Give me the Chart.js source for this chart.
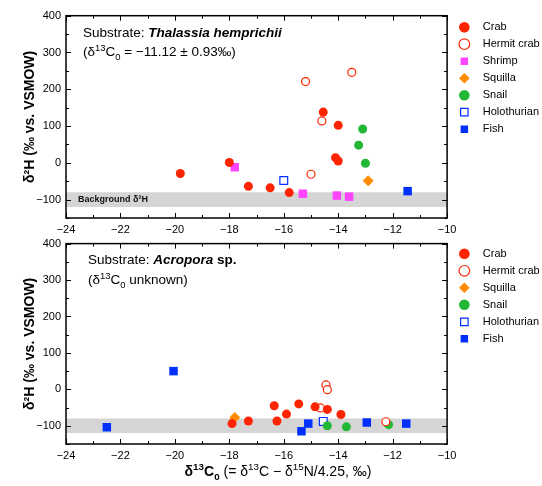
<!DOCTYPE html>
<html>
<head>
<meta charset="utf-8">
<script src="https://cdn.jsdelivr.net/npm/chart.js@4"></script>
<style>
  body { margin: 0; background: #fff; }
  #wrap { position: relative; width: 542px; height: 486px; overflow: hidden; font-family: "Liberation Sans", Arial, sans-serif; color: #000; }
  canvas { position: absolute; left: 0; }
  .note { position: absolute; font-size: 13.5px; line-height: 19px; white-space: nowrap; }
  sup, sub { font-size: 70%; line-height: 0; }
  #xtitle { position: absolute; top: 463px; left: 0; width: 556px; text-align: center; font-size: 14px; white-space: nowrap; }
</style>
</head>
<body>
<div id="wrap">
  <canvas id="top" width="542" height="240" style="top:0"></canvas>
  <canvas id="bottom" width="542" height="254" style="top:232px"></canvas>
  <div class="note" style="left:83px; top:23px">Substrate: <b><i>Thalassia hemprichii</i></b><br>(δ<sup>13</sup>C<sub>0</sub> = −11.12 ± 0.93‰)</div>
  <div class="note" style="left:88px; top:250px; line-height:20px">Substrate: <b><i>Acropora</i> sp.</b><br>(δ<sup>13</sup>C<sub>0</sub> unknown)</div>
  <div id="xtitle"><b>δ<sup>13</sup>C<sub>0</sub></b> (= δ<sup>13</sup>C − δ<sup>15</sup>N/4.25, ‰)</div>
</div>
<script>
// axis limits
const xMin = -24, xMax = -10, xStep = 1;
const yMin = -150, yMax = 400, yStep = 50;
const bgFrom = -80, bgTo = -120;

// Thalassia hemprichii substrate: [d13C0, d2H]
const thCrab = [[-19.8, -29], [-18.0, 1], [-17.3, -64], [-16.5, -68], [-15.8, -81],
  [-14.55, 138], [-14.0, 102], [-14.1, 14], [-14.0, 5]];
const thHermit = [[-15.2, 221], [-13.5, 246], [-14.6, 114], [-15.0, -31]];
const thShrimp = [[-17.8, -12], [-15.3, -84], [-14.05, -89], [-13.6, -92]];
const thSquilla = [[-12.9, -49]];
const thSnail = [[-13.1, 92], [-13.25, 48], [-13.0, -1]];
const thHolo = [[-16.0, -48]];
const thFish = [[-11.45, -77]];

// Acropora substrate
const acCrab = [[-17.9, -94], [-17.3, -87], [-16.35, -45], [-16.25, -87], [-15.9, -68],
  [-15.45, -40], [-14.85, -48], [-14.4, -55], [-13.9, -69]];
const acHermit = [[-14.45, 12], [-14.4, -1], [-14.65, -51], [-12.25, -89]];
const acSquilla = [[-17.8, -77]];
const acSnail = [[-14.4, -100], [-13.7, -103], [-12.15, -97]];
const acHolo = [[-14.55, -88]];
const acFish = [[-22.5, -104], [-20.05, 50], [-15.35, -115], [-15.1, -94], [-12.95, -91], [-11.5, -94]];

const RED = '#ff2400', MAGENTA = '#ff45ff', ORANGE = '#ff8c00', GREEN = '#22b836', BLUE = '#0030ff';

Chart.defaults.font.family = '"Liberation Sans", Arial, sans-serif';
Chart.defaults.color = '#000';

function pts(arr) { return arr.map(p => ({x: p[0], y: p[1]})); }

function series(label, arr, style) {
  const base = {
    label: label, data: pts(arr), borderWidth: 0, pointRadius: 4.5,
    pointStyle: 'circle', clip: false
  };
  const ds = Object.assign(base, style);
  ds.pointHoverRadius = ds.pointRadius;
  return ds;
}
const crab = a => series('Crab', a, {backgroundColor: RED, borderColor: RED});
const hermit = a => series('Hermit crab', a, {backgroundColor: '#fff', borderColor: RED, borderWidth: 1.2, pointRadius: 4});
const shrimp = a => series('Shrimp', a, {backgroundColor: MAGENTA, borderColor: MAGENTA, pointStyle: 'rect', pointRadius: 6});
const squilla = a => series('Squilla', a, {backgroundColor: ORANGE, borderColor: ORANGE, pointStyle: 'rectRot', pointRadius: 5.5});
const snail = a => series('Snail', a, {backgroundColor: GREEN, borderColor: GREEN});
const holo = a => series('Holothurian', a, {backgroundColor: '#fff', borderColor: BLUE, borderWidth: 1.2, pointStyle: 'rect', pointRadius: 5.5});
const fish = a => series('Fish', a, {backgroundColor: BLUE, borderColor: BLUE, pointStyle: 'rect', pointRadius: 6});

const minus = v => String(v).replace('-', '\u2212');

// grey background band with optional caption
const bandPlugin = {
  id: 'band',
  beforeDatasetsDraw(chart, args, opts) {
    const {ctx, chartArea: a, scales: {y}} = chart;
    const t = y.getPixelForValue(opts.from), b = y.getPixelForValue(opts.to);
    ctx.save();
    ctx.fillStyle = '#d5d5d5';
    ctx.fillRect(a.left, t, a.right - a.left, b - t);
    if (opts.label) {
      ctx.fillStyle = '#111';
      ctx.font = 'bold 9px "Liberation Sans", Arial, sans-serif';
      ctx.textBaseline = 'middle';
      ctx.fillText(opts.label, a.left + 12, (t + b) / 2);
    }
    ctx.restore();
  }
};

// box frame with inward ticks on all four sides
const framePlugin = {
  id: 'frame',
  afterDatasetsDraw(chart) {
    const {ctx, chartArea: a, scales: {x, y}} = chart;
    ctx.save();
    ctx.strokeStyle = '#000';
    ctx.lineWidth = 1;
    ctx.beginPath();
    x.ticks.forEach(t => {
      const px = Math.round(x.getPixelForValue(t.value)) + 0.5;
      const len = t.value % 2 === 0 ? 5 : 3;
      ctx.moveTo(px, a.bottom); ctx.lineTo(px, a.bottom - len);
      ctx.moveTo(px, a.top); ctx.lineTo(px, a.top + len);
    });
    y.ticks.forEach(t => {
      const py = Math.round(y.getPixelForValue(t.value)) + 0.5;
      const len = t.value % 100 === 0 ? 5 : 3;
      ctx.moveTo(a.left, py); ctx.lineTo(a.left + len, py);
      ctx.moveTo(a.right, py); ctx.lineTo(a.right - len, py);
    });
    ctx.stroke();
    ctx.lineWidth = 1.5;
    ctx.strokeRect(a.left, a.top, a.right - a.left, a.bottom - a.top);
    ctx.restore();
  }
};

function makeChart(id, datasets, pad, bandLabel) {
  return new Chart(document.getElementById(id), {
    type: 'scatter',
    data: {datasets: datasets},
    plugins: [bandPlugin, framePlugin],
    options: {
      responsive: false,
      animation: false,
      layout: {padding: pad},
      scales: {
        x: {
          type: 'linear', min: xMin, max: xMax,
          grid: {display: false, drawTicks: false}, border: {display: false},
          ticks: {stepSize: xStep, autoSkip: false, maxRotation: 0, padding: 5, font: {size: 11},
            callback: v => v % 2 === 0 ? minus(v) : ''},
          afterFit: s => { s.height = 22; }
        },
        y: {
          type: 'linear', min: yMin, max: yMax,
          grid: {display: false, drawTicks: false}, border: {display: false},
          ticks: {stepSize: yStep, autoSkip: false, padding: 5, font: {size: 11},
            callback: v => v % 100 === 0 ? minus(v) : ''},
          title: {display: true, text: 'δ²H (‰ vs. VSMOW)', font: {size: 14, weight: 'bold'}},
          afterFit: s => { s.width = 48.4; }
        },
        gap: {
          type: 'linear', position: 'right', display: true,
          grid: {display: false, drawTicks: false}, border: {display: false}, ticks: {display: false},
          afterFit: s => { s.width = 7.5; }
        }
      },
      plugins: {
        tooltip: {enabled: false},
        band: {from: bgFrom, to: bgTo, label: bandLabel},
        legend: {
          position: 'right', align: 'start',
          labels: {
            usePointStyle: true, boxWidth: 7.5, boxHeight: 7.5, padding: 6,
            font: {size: 11}, color: '#000',
            generateLabels: chart => Chart.defaults.plugins.legend.labels.generateLabels(chart)
              .map(item => Object.assign(item, {text: '   ' + item.text}))
          }
        }
      }
    }
  });
}

makeChart('top', [crab(thCrab), hermit(thHermit), shrimp(thShrimp), squilla(thSquilla),
  snail(thSnail), holo(thHolo), fish(thFish)],
  {left: 17.6, top: 15.7, right: 0, bottom: 0}, 'Background δ²H');

makeChart('bottom', [crab(acCrab), hermit(acHermit), squilla(acSquilla),
  snail(acSnail), holo(acHolo), fish(acFish)],
  {left: 17.6, top: 10.3, right: 0, bottom: 20}, '');
</script>
</body>
</html>
